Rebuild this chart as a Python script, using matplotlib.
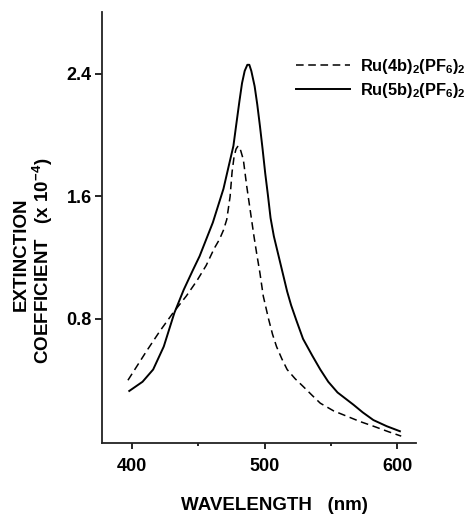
import numpy as np
import matplotlib
matplotlib.use('Agg')
import matplotlib.pyplot as plt
from matplotlib.ticker import MultipleLocator

plt.rcParams['font.family'] = ['Liberation Sans', 'DejaVu Sans']
plt.rcParams['mathtext.fontset'] = 'custom'
plt.rcParams['mathtext.rm'] = 'Liberation Sans:bold'
plt.rcParams['mathtext.default'] = 'rm'

# -----------------------------------
# data
wl_4b = [397, 411, 421, 431, 441, 449, 456, 462, 466, 469, 471.5, 474, 475.5,
         477, 478.5, 480, 482, 484, 486.5, 488, 490, 492, 494, 496.5, 499, 503,
         506, 509, 513, 517, 523, 529, 536, 542, 552, 562, 572, 582, 593, 603]
ext_4b = [0.40, 0.59, 0.72, 0.84, 0.95, 1.05, 1.15, 1.26, 1.32, 1.38, 1.45, 1.60,
          1.76, 1.86, 1.91, 1.93, 1.90, 1.84, 1.67, 1.58, 1.46, 1.34, 1.23, 1.10,
          0.95, 0.80, 0.70, 0.62, 0.54, 0.47, 0.41, 0.36, 0.30, 0.25, 0.20, 0.165,
          0.13, 0.10, 0.065, 0.035]

wl_5b = [398, 408, 416, 424, 432, 439, 446, 451, 456, 461, 465, 469, 473, 476.5,
         478.5, 481, 483, 485, 487, 488.5, 490, 492.5, 494.5, 496.5, 498.5, 500.5,
         502.5, 504.5, 507, 509.5, 512, 514.5, 517, 520, 524, 529, 536, 542, 548,
         555, 561, 567, 574, 582, 592, 602]
ext_5b = [0.33, 0.39, 0.47, 0.62, 0.84, 0.99, 1.12, 1.21, 1.32, 1.43, 1.54, 1.65,
          1.80, 1.93, 2.06, 2.22, 2.34, 2.42, 2.46, 2.46, 2.42, 2.32, 2.20, 2.06,
          1.91, 1.75, 1.61, 1.46, 1.34, 1.25, 1.16, 1.07, 0.98, 0.89, 0.79, 0.67,
          0.56, 0.47, 0.39, 0.32, 0.28, 0.24, 0.19, 0.14, 0.10, 0.067]

LABELS = ['Ru(4b)$_2$(PF$_6$)$_2$', 'Ru(5b)$_2$(PF$_6$)$_2$']
# -----------------------------------

fig = plt.figure(figsize=(4.69, 5.14), dpi=100)
ax = fig.add_axes([0.2168, 0.1387, 0.6695, 0.838])

ax.plot(wl_4b, ext_4b, color='black', linewidth=1.1, linestyle=(0, (5, 3)), label=LABELS[0])
ax.plot(wl_5b, ext_5b, color='black', linewidth=1.4, linestyle='-', label=LABELS[1])

ax.set_xlim(377.2, 613.9)
ax.set_ylim(-0.008, 2.805)

for s in ['top', 'right']:
    ax.spines[s].set_visible(False)
for s in ['left', 'bottom']:
    ax.spines[s].set_linewidth(1.3)
    ax.spines[s].set_color('#222222')

ax.set_xticks([400, 500, 600])
ax.xaxis.set_minor_locator(MultipleLocator(50))
ax.set_yticks([0.8, 1.6, 2.4])
ax.set_yticklabels(['0.8', '1.6', '2.4'])
ax.tick_params(axis='x', which='major', direction='out', length=4, width=1.2, pad=7, labelsize=13)
ax.tick_params(axis='x', which='minor', direction='out', length=2.5, width=1.2)
ax.tick_params(axis='y', which='major', direction='out', length=5, width=1.2, pad=2, labelsize=13)
for lab in ax.get_xticklabels() + ax.get_yticklabels():
    lab.set_fontweight('bold')

fig.text(274 / 469, 1 - 506 / 514, 'WAVELENGTH   (nm)', ha='center', va='center',
         fontsize=13.5, fontweight='bold')
fig.text(21 / 469, 1 - 254 / 514, 'EXTINCTION', rotation=90, ha='center', va='center',
         fontsize=13.5, fontweight='bold')
fig.text(43 / 469, 1 - 261 / 514, 'COEFFICIENT   (x 10$^{-4}$)', rotation=90, ha='center',
         va='center', fontsize=13.5, fontweight='bold')

ax.legend(loc='upper left', bbox_to_anchor=(296 / 469, 1 - 57 / 514), bbox_transform=fig.transFigure,
          frameon=False, handlelength=3.3, handletextpad=0.6, labelspacing=0.3,
          borderpad=0, borderaxespad=0, prop={'weight': 'bold', 'size': 11.8})

fig.savefig('out.png', dpi=100)
